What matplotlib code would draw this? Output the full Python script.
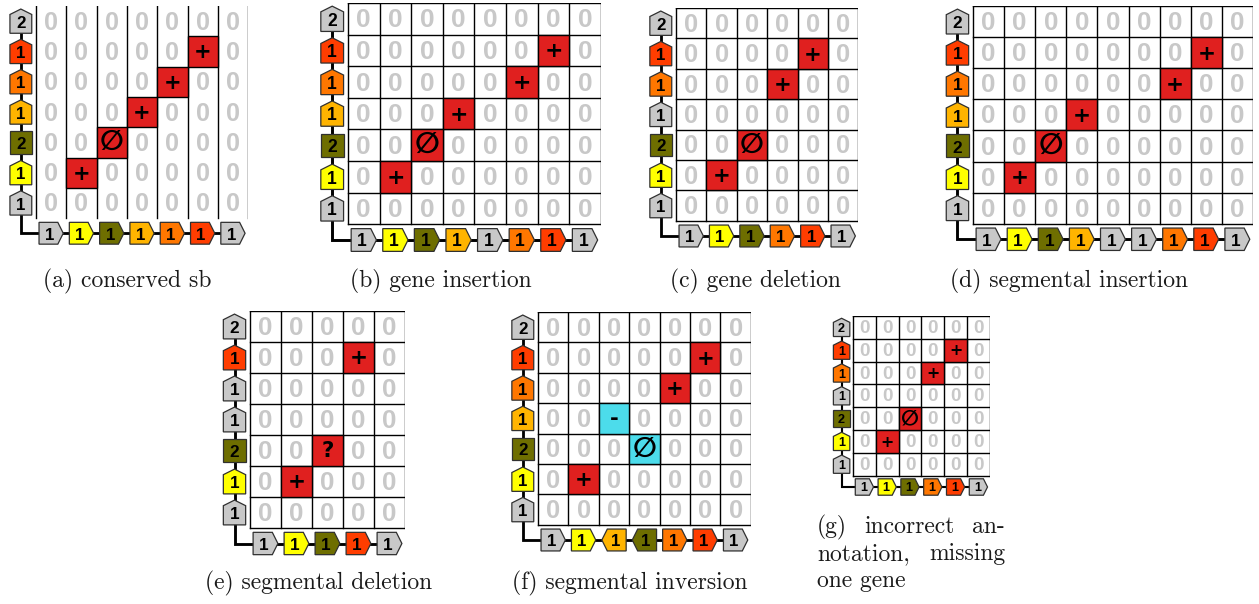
import matplotlib.pyplot as plt
from matplotlib.patches import Polygon, Rectangle

W, H = 1259, 604

gene_colors = {'g': '#c8c8c8', 'y': '#ffff00', 'v': '#6e6e00',
               'a': '#ffb400', 'o': '#ff7700', 'r': '#ff3d00'}
cell_colors = {'r': '#e0201f', 'c': '#4cdceb'}
zero_color = '#c8c8c8'

# (a) conserved sb
left_a = ['g', 'r', 'o', 'a', 'v', 'y', 'g']
left_num_a = [2, 1, 1, 1, 2, 1, 1]
left_dir_a = [1, 1, 1, 1, 0, 1, 1]
bottom_a = ['g', 'y', 'v', 'a', 'o', 'r', 'g']
bottom_dir_a = [1, 1, 1, 1, 1, 1, 1]
rows_a = [1, 2, 3, 4, 5]
cols_a = [5, 4, 3, 2, 1]
syms_a = ['+', '+', '+', '∅', '+']
fills_a = ['r', 'r', 'r', 'r', 'r']

# (b) gene insertion
bottom_b = ['g', 'y', 'v', 'a', 'g', 'o', 'r', 'g']
bottom_dir_b = [1, 1, 1, 1, 1, 1, 1, 1]
rows_b = [1, 2, 3, 4, 5]
cols_b = [6, 5, 3, 2, 1]
syms_b = ['+', '+', '+', '∅', '+']
fills_b = ['r', 'r', 'r', 'r', 'r']

# (c) gene deletion
left_c = ['g', 'r', 'o', 'g', 'v', 'y', 'g']
bottom_c = ['g', 'y', 'v', 'o', 'r', 'g']
bottom_dir_c = [1, 1, 1, 1, 1, 1]
rows_c = [1, 2, 4, 5]
cols_c = [4, 3, 2, 1]
syms_c = ['+', '+', '∅', '+']
fills_c = ['r', 'r', 'r', 'r']

# (d) segmental insertion
bottom_d = ['g', 'y', 'v', 'a', 'g', 'g', 'o', 'r', 'g']
bottom_dir_d = [1, 1, 1, 1, 1, 1, 1, 1, 1]
rows_d = [1, 2, 3, 4, 5]
cols_d = [7, 6, 3, 2, 1]
syms_d = ['+', '+', '+', '∅', '+']
fills_d = ['r', 'r', 'r', 'r', 'r']

# (e) segmental deletion
left_e = ['g', 'r', 'g', 'g', 'v', 'y', 'g']
bottom_e = ['g', 'y', 'v', 'r', 'g']
bottom_dir_e = [1, 1, 1, 1, 1]
rows_e = [1, 4, 5]
cols_e = [3, 2, 1]
syms_e = ['+', '?', '+']
fills_e = ['r', 'r', 'r']

# (f) segmental inversion
bottom_f = ['g', 'y', 'a', 'v', 'o', 'r', 'g']
bottom_dir_f = [1, 1, -1, -1, 1, 1, 1]
rows_f = [1, 2, 3, 4, 5]
cols_f = [5, 4, 2, 3, 1]
syms_f = ['+', '+', '-', '∅', '+']
fills_f = ['r', 'r', 'c', 'c', 'r']

captions = ['(a) conserved sb', '(b) gene insertion', '(c) gene deletion',
            '(d) segmental insertion', '(e) segmental deletion',
            '(f) segmental inversion']
caption_g = [['(g)', 'incorrect', 'an-'], ['notation,', 'missing'], ['one gene']]


def gene_shape(cx, cy, length, thick, tip, direction, vertical):
    # pentagon arrow along x, flipped / rotated as needed
    if direction == 0:
        pts = [(-length / 2, -thick / 2), (length / 2, -thick / 2),
               (length / 2, thick / 2), (-length / 2, thick / 2)]
    else:
        pts = [(-length / 2, -thick / 2), (length / 2 - tip, -thick / 2),
               (length / 2, 0), (length / 2 - tip, thick / 2),
               (-length / 2, thick / 2)]
        if direction < 0:
            pts = [(-x, y) for x, y in pts]
    if vertical:
        pts = [(y, x) for x, y in pts]
    return [(cx + x, cy + y) for x, y in pts]


def draw_panel(ax, cellpx, left, left_num, left_dir, bottom, bottom_dir,
               rows, cols, syms, fills, full_grid=True):
    nrows, ncols = len(left), len(bottom)
    ax.set_xlim(-1, ncols)
    ax.set_ylim(-1, nrows)
    ax.axis('off')

    # backbone joining the two gene orders
    ax.plot([-0.5, -0.5, ncols - 0.5], [nrows - 0.5, -0.5, -0.5],
            color='black', lw=2.0 * cellpx / 30, solid_joinstyle='miter',
            zorder=1)

    marked = {(r, c): (s, f) for r, c, s, f in zip(rows, cols, syms, fills)}
    for r in range(nrows):
        y = nrows - 1 - r
        for c in range(ncols):
            if (r, c) in marked:
                s, f = marked[(r, c)]
                ax.add_patch(Rectangle((c, y), 1, 1, facecolor=cell_colors[f],
                                       edgecolor='black', lw=1.0, zorder=3))
                if s == '∅':
                    ax.text(c + 0.5, y + 0.5, s, ha='center', va='center',
                            fontsize=0.66 * cellpx, fontweight='bold',
                            family='DejaVu Sans', zorder=4)
                else:
                    ax.text(c + 0.5, y + 0.47, s, ha='center', va='center',
                            fontsize=0.5 * cellpx, fontweight='bold',
                            family='DejaVu Sans', zorder=4)
            else:
                ax.text(c + 0.5, y + 0.45, '0', ha='center', va='center',
                        fontsize=0.6 * cellpx, fontweight='bold',
                        family='Liberation Sans', color=zero_color, zorder=2)

    if full_grid:
        for i in range(nrows + 1):
            ax.plot([0, ncols], [i, i], color='black', lw=1.0, zorder=2.5)
    for j in range(ncols + 1):
        ax.plot([j, j], [0, nrows], color='black', lw=1.0, zorder=2.5)

    lab = 0.4 * cellpx
    for r, (key, num, d) in enumerate(zip(left, left_num, left_dir)):
        cy = nrows - 0.5 - r
        h = 0.74 if d == 0 else 0.8
        ax.add_patch(Polygon(gene_shape(-0.5, cy, h, 0.72, 0.18, d, True),
                             closed=True, facecolor=gene_colors[key],
                             edgecolor='#303030', lw=0.9, zorder=5))
        ax.text(-0.5, cy - 0.07, str(num), ha='center', va='center',
                fontsize=lab, fontweight='bold', family='Liberation Sans',
                zorder=6)
    for c, (key, d) in enumerate(zip(bottom, bottom_dir)):
        ax.add_patch(Polygon(gene_shape(c + 0.5, -0.5, 0.8, 0.72, 0.18, d, False),
                             closed=True, facecolor=gene_colors[key],
                             edgecolor='#303030', lw=0.9, zorder=5))
        ax.text(c + 0.5 - 0.05 * d, -0.56, '1', ha='center', va='center',
                fontsize=lab, fontweight='bold', family='Liberation Sans',
                zorder=6)


fig = plt.figure(figsize=(W / 100, H / 100), dpi=100)


def panel_axes(gridleft, gridtop, cellpx, nrows, ncols):
    left = (gridleft - cellpx) / W
    bottom = 1 - (gridtop + (nrows + 1) * cellpx) / H
    ax = fig.add_axes([left, bottom, (ncols + 1) * cellpx / W,
                       (nrows + 1) * cellpx / H])
    return ax


ax = panel_axes(36, 6, 30.3, 7, 7)
draw_panel(ax, 30.3, left_a, left_num_a, left_dir_a, bottom_a, bottom_dir_a,
           rows_a, cols_a, syms_a, fills_a, full_grid=False)

ax = panel_axes(348, 3, 31.6, 7, 8)
draw_panel(ax, 31.6, left_a, left_num_a, left_dir_a, bottom_b, bottom_dir_b,
           rows_b, cols_b, syms_b, fills_b)

ax = panel_axes(676, 8, 30.4, 7, 6)
draw_panel(ax, 30.4, left_c, left_num_a, left_dir_a, bottom_c, bottom_dir_c,
           rows_c, cols_c, syms_c, fills_c)

ax = panel_axes(973, 6, 31.1, 7, 9)
draw_panel(ax, 31.1, left_a, left_num_a, left_dir_a, bottom_d, bottom_dir_d,
           rows_d, cols_d, syms_d, fills_d)

ax = panel_axes(250, 311, 31.0, 7, 5)
draw_panel(ax, 31.0, left_e, left_num_a, left_dir_a, bottom_e, bottom_dir_e,
           rows_e, cols_e, syms_e, fills_e)

ax = panel_axes(538, 312, 30.4, 7, 7)
draw_panel(ax, 30.4, left_a, left_num_a, left_dir_a, bottom_f, bottom_dir_f,
           rows_f, cols_f, syms_f, fills_f)

# (g) reuses the gene deletion layout at a smaller scale
ax = panel_axes(853, 316, 22.8, 7, 6)
draw_panel(ax, 22.8, left_c, left_num_a, left_dir_a, bottom_c, bottom_dir_c,
           rows_c, cols_c, syms_c, fills_c)

cap_font = dict(family='cmr10', fontsize=17, color='#1a1a1a')
cap_pos = [(127, 281), (441, 281), (755, 281), (1069, 281), (319, 583), (630, 583)]
for text, (x, y) in zip(captions, cap_pos):
    fig.text(x / W, 1 - y / H, text, ha='center', va='center', **cap_font)

# justified three-line caption for (g)
g_left, g_right = 817, 1005
line_y = [527, 554, 581]
for words, y in zip(caption_g, line_y):
    yf = 1 - y / H
    fig.text(g_left / W, yf, words[0], ha='left', va='center', **cap_font)
    if len(words) == 3:
        fig.text(909 / W, yf, words[1], ha='center', va='center', **cap_font)
    if len(words) > 1:
        fig.text(g_right / W, yf, words[-1], ha='right', va='center', **cap_font)

fig.savefig('out.png', dpi=100)
